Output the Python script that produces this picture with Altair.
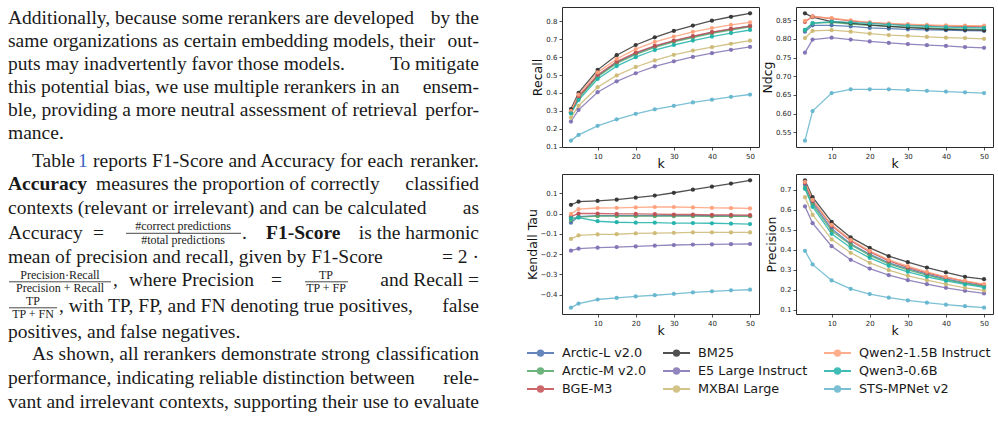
import altair as alt
import pandas as pd

# ---------------------------------------------------------------- data
k_values = [3, 5, 10, 15, 20, 25, 30, 35, 40, 45, 50]

models = ["Arctic-L v2.0", "Arctic-M v2.0", "BGE-M3", "BM25", "E5 Large Instruct",
          "MXBAI Large", "Qwen2-1.5B Instruct", "Qwen3-0.6B", "STS-MPNet v2"]
model_colors = ["#4C72B0", "#55A868", "#C44E52", "#333333", "#8172B3",
                "#CCB974", "#FFA07A", "#20B2AA", "#64B5CD"]

recall = {
    "Arctic-L v2.0":       [0.290, 0.375, 0.495, 0.570, 0.620, 0.660, 0.690, 0.715, 0.738, 0.757, 0.775],
    "Arctic-M v2.0":       [0.290, 0.370, 0.490, 0.565, 0.615, 0.655, 0.685, 0.710, 0.733, 0.752, 0.770],
    "BGE-M3":              [0.295, 0.380, 0.500, 0.575, 0.625, 0.663, 0.693, 0.718, 0.740, 0.758, 0.774],
    "BM25":                [0.310, 0.400, 0.529, 0.611, 0.668, 0.711, 0.747, 0.777, 0.804, 0.826, 0.845],
    "E5 Large Instruct":   [0.240, 0.305, 0.404, 0.465, 0.510, 0.548, 0.577, 0.601, 0.622, 0.641, 0.657],
    "MXBAI Large":         [0.262, 0.328, 0.432, 0.498, 0.545, 0.582, 0.613, 0.637, 0.656, 0.675, 0.692],
    "Qwen2-1.5B Instruct": [0.300, 0.390, 0.515, 0.590, 0.645, 0.685, 0.715, 0.742, 0.763, 0.780, 0.795],
    "Qwen3-0.6B":          [0.285, 0.360, 0.478, 0.550, 0.600, 0.640, 0.668, 0.693, 0.715, 0.735, 0.752],
    "STS-MPNet v2":        [0.133, 0.165, 0.216, 0.252, 0.283, 0.308, 0.328, 0.347, 0.362, 0.378, 0.391],
}

ndcg = {
    "Arctic-L v2.0":       [0.819, 0.836, 0.836, 0.833, 0.829, 0.827, 0.825, 0.824, 0.823, 0.822, 0.821],
    "Arctic-M v2.0":       [0.823, 0.841, 0.844, 0.839, 0.836, 0.833, 0.831, 0.829, 0.827, 0.826, 0.825],
    "BGE-M3":              [0.845, 0.860, 0.854, 0.848, 0.843, 0.840, 0.837, 0.835, 0.834, 0.833, 0.832],
    "BM25":                [0.868, 0.858, 0.846, 0.842, 0.837, 0.833, 0.830, 0.827, 0.825, 0.824, 0.823],
    "E5 Large Instruct":   [0.763, 0.798, 0.803, 0.798, 0.793, 0.789, 0.786, 0.783, 0.781, 0.778, 0.776],
    "MXBAI Large":         [0.802, 0.821, 0.823, 0.819, 0.814, 0.810, 0.808, 0.805, 0.803, 0.802, 0.800],
    "Qwen2-1.5B Instruct": [0.848, 0.859, 0.855, 0.849, 0.844, 0.841, 0.839, 0.837, 0.836, 0.835, 0.835],
    "Qwen3-0.6B":          [0.824, 0.842, 0.846, 0.844, 0.841, 0.838, 0.835, 0.833, 0.831, 0.830, 0.829],
    "STS-MPNet v2":        [0.528, 0.607, 0.655, 0.665, 0.665, 0.665, 0.663, 0.661, 0.659, 0.657, 0.655],
}

kendall_tau = {
    "Arctic-L v2.0":       [-0.045, -0.015, -0.010, -0.010, -0.010, -0.010, -0.010, -0.010, -0.011, -0.012, -0.012],
    "Arctic-M v2.0":       [-0.032, -0.018, -0.013, -0.013, -0.013, -0.013, -0.013, -0.013, -0.014, -0.014, -0.014],
    "BGE-M3":              [-0.015, 0.000, 0.000, -0.002, -0.002, -0.003, -0.005, -0.005, -0.007, -0.007, -0.008],
    "BM25":                [0.043, 0.058, 0.062, 0.068, 0.078, 0.088, 0.102, 0.117, 0.132, 0.147, 0.163],
    "E5 Large Instruct":   [-0.183, -0.173, -0.168, -0.165, -0.162, -0.158, -0.155, -0.153, -0.152, -0.151, -0.150],
    "MXBAI Large":         [-0.125, -0.108, -0.103, -0.102, -0.098, -0.097, -0.095, -0.093, -0.093, -0.093, -0.093],
    "Qwen2-1.5B Instruct": [-0.002, 0.022, 0.027, 0.028, 0.030, 0.032, 0.032, 0.030, 0.028, 0.027, 0.025],
    "Qwen3-0.6B":          [-0.023, -0.020, -0.038, -0.043, -0.045, -0.045, -0.047, -0.047, -0.048, -0.050, -0.052],
    "STS-MPNet v2":        [-0.463, -0.443, -0.423, -0.415, -0.408, -0.402, -0.395, -0.388, -0.383, -0.378, -0.375],
}

precision = {
    "Arctic-L v2.0":       [0.725, 0.635, 0.505, 0.430, 0.378, 0.335, 0.305, 0.278, 0.255, 0.235, 0.220],
    "Arctic-M v2.0":       [0.710, 0.625, 0.495, 0.425, 0.372, 0.330, 0.300, 0.273, 0.250, 0.232, 0.217],
    "BGE-M3":              [0.735, 0.645, 0.520, 0.445, 0.390, 0.345, 0.312, 0.285, 0.262, 0.242, 0.225],
    "BM25":                [0.747, 0.663, 0.540, 0.462, 0.410, 0.368, 0.338, 0.311, 0.287, 0.265, 0.253],
    "E5 Large Instruct":   [0.617, 0.533, 0.418, 0.350, 0.306, 0.273, 0.248, 0.228, 0.210, 0.195, 0.182],
    "MXBAI Large":         [0.663, 0.575, 0.452, 0.385, 0.335, 0.298, 0.270, 0.248, 0.228, 0.210, 0.197],
    "Qwen2-1.5B Instruct": [0.740, 0.650, 0.525, 0.450, 0.395, 0.350, 0.318, 0.290, 0.265, 0.245, 0.228],
    "Qwen3-0.6B":          [0.705, 0.615, 0.480, 0.410, 0.360, 0.320, 0.290, 0.265, 0.245, 0.227, 0.212],
    "STS-MPNet v2":        [0.395, 0.327, 0.247, 0.205, 0.179, 0.161, 0.147, 0.136, 0.126, 0.118, 0.111],
}

recall_ticks = [0.1, 0.2, 0.3, 0.4, 0.5, 0.6, 0.7, 0.8]
ndcg_ticks = [0.55, 0.60, 0.65, 0.70, 0.75, 0.80, 0.85]
kendall_ticks = [-0.4, -0.3, -0.2, -0.1, 0.0, 0.1]
precision_ticks = [0.1, 0.2, 0.3, 0.4, 0.5, 0.6, 0.7]
k_ticks = [10, 20, 30, 40, 50]

# ---------------------------------------------------------------- paragraph text
paragraph_lines = [
    "Additionally, because some rerankers are developed", "by the",
    "same organizations as certain embedding models, their", "out-",
    "puts may inadvertently favor those models.", "To mitigate",
    "this potential bias, we use multiple rerankers in an", "ensem-",
    "ble, providing a more neutral assessment of retrieval", "perfor-",
    "mance.",
    "Table", "1", "reports F1-Score and Accuracy for each", "reranker.",
    "Accuracy", "measures the proportion of correctly", "classified",
    "contexts (relevant or irrelevant) and can be calculated", "as",
    "Accuracy", "=", "#correct predictions", "#total predictions", ".", "F1-Score", "is the harmonic",
    "mean of precision and recall, given by F1-Score", "=  2 \u00b7",
    "Precision\u00b7Recall", "Precision + Recall", ",", "where Precision", "=", "TP", "TP + FP", "and Recall =",
    "TP", "TP + FN", ", with TP, FP, and FN denoting true positives,", "false",
    "positives, and false negatives.",
    "As shown, all rerankers demonstrate strong", "classification",
    "performance, indicating reliable distinction between", "rele-",
    "vant and irrelevant contexts, supporting their use to", "evaluate",
]

# (x, baseline y, style) for each text piece above, in page pixels
L, R, IND = 7, 478, 31
text_layout = [
    (L, 23.3, "reg"), (R, 23.3, "right"),
    (L, 46.3, "reg"), (R, 46.3, "right"),
    (L, 69.3, "reg"), (R, 69.3, "right"),
    (L, 92.3, "reg"), (R, 92.3, "right"),
    (L, 115.3, "reg"), (R, 115.3, "right"),
    (L, 138.3, "reg"),
    (IND, 165.7, "reg"), (77, 165.7, "blue"), (92, 165.7, "reg"), (R, 165.7, "right"),
    (L, 189.3, "bold"), (95, 189.3, "reg"), (R, 189.3, "right"),
    (L, 213.3, "reg"), (R, 213.3, "right"),
    (L, 238.3, "reg"), (92, 238.3, "reg"), (182, 228.5, "frac"), (182, 242.5, "frac"),
    (241, 238.3, "reg"), (265, 238.3, "bold"), (R, 238.3, "right"),
    (L, 261.7, "reg"), (R, 261.7, "right"),
    (59, 277.5, "frac"), (59, 291.0, "frac"), (112, 285.0, "reg"), (128, 285.0, "reg"),
    (270, 285.0, "reg"), (325, 277.5, "frac"), (325, 291.0, "frac"), (R, 285.0, "right"),
    (32, 303.5, "frac"), (32, 317.0, "frac"), (58, 310.7, "reg"), (R, 310.7, "right"),
    (L, 336.5, "reg"),
    (IND, 359.3, "reg"), (R, 359.3, "right"),
    (L, 383.3, "reg"), (R, 383.3, "right"),
    (L, 407.3, "reg"), (R, 407.3, "right"),
]
# fraction bars: (x start, x end, y)
fraction_bars = [(125, 240, 232.3), (8, 110, 280.8), (304, 347, 280.8), (8, 56, 306.8)]

TOP = 6  # top padding of the whole figure

# ---------------------------------------------------------------- long table
rows = []
for metric, table in [("Recall", recall), ("Ndcg", ndcg),
                      ("Kendall Tau", kendall_tau), ("Precision", precision)]:
    for m in models:
        for kk, v in zip(k_values, table[m]):
            rows.append({"metric": metric, "model": m, "k": kk, "value": v})
df = pd.DataFrame(rows)

k_pad = 0.05 * (max(k_values) - min(k_values))
k_domain = [min(k_values) - k_pad, max(k_values) + k_pad]


def panel(metric, ticks, fmt):
    sub = df[df["metric"] == metric]
    lo, hi = sub["value"].min(), sub["value"].max()
    pad = 0.05 * (hi - lo)
    return alt.Chart(sub).mark_line(
        strokeWidth=1.3, opacity=0.85,
        point=alt.OverlayMarkDef(filled=True, size=18, opacity=0.95),
    ).encode(
        x=alt.X("k:Q", scale=alt.Scale(domain=k_domain, nice=False, zero=False),
                axis=alt.Axis(values=k_ticks, title="k", titlePadding=-2)),
        y=alt.Y("value:Q", scale=alt.Scale(domain=[lo - pad, hi + pad], nice=False, zero=False),
                axis=alt.Axis(values=ticks, format=fmt, title=metric)),
        color=alt.Color("model:N", scale=alt.Scale(domain=models, range=model_colors),
                        title=None),
    ).properties(width=197, height=140)


grid = alt.concat(
    panel("Recall", recall_ticks, ".1f"),
    panel("Ndcg", ndcg_ticks, ".2f"),
    panel("Kendall Tau", kendall_ticks, ".1f"),
    panel("Precision", precision_ticks, ".1f"),
    columns=2, spacing={"row": 27, "column": 37}, bounds="flush",
)

# ---------------------------------------------------------------- paragraph panel
text_df = pd.DataFrame([
    {"text": t, "x": x, "y": y - TOP, "style": s}
    for t, (x, y, s) in zip(paragraph_lines, text_layout)
])
bar_df = pd.DataFrame([{"x": a, "x2": b, "y": y - TOP} for a, b, y in fraction_bars])

text_base = alt.Chart(text_df).encode(
    x=alt.X("x:Q", scale=None), y=alt.Y("y:Q", scale=None), text="text:N"
)
ink = "#1a1a1a"
serif = "Liberation Serif"


def text_layer(style, **kw):
    return text_base.transform_filter(alt.datum.style == style).mark_text(
        font=serif, baseline="alphabetic", **kw)


paragraph = alt.layer(
    text_layer("reg", fontSize=19.5, align="left", color=ink),
    text_layer("right", fontSize=19.5, align="right", color=ink),
    text_layer("bold", fontSize=19.5, align="left", color=ink, fontWeight="bold"),
    text_layer("blue", fontSize=19.5, align="left", color="#3b63c4"),
    text_layer("frac", fontSize=12, align="center", color=ink),
    alt.Chart(bar_df).mark_rule(color=ink, strokeWidth=0.8).encode(
        x=alt.X("x:Q", scale=None), x2="x2:Q", y=alt.Y("y:Q", scale=None)),
).properties(width=500, height=424 - TOP, view=alt.ViewBackground(stroke="transparent"))

# ---------------------------------------------------------------- figure
sym_path = ("M -1.5 0 L 1.5 0 M -0.3 0 A 0.3 0.3 0 1 1 0.3 0 "
            "A 0.3 0.3 0 1 1 -0.3 0")

chart = alt.hconcat(
    paragraph, grid, spacing=61, bounds="flush"
).properties(
    padding={"left": 0, "top": TOP, "right": 0, "bottom": 0}
).configure_view(
    stroke="#2a2a2a", strokeWidth=1
).configure_axis(
    labelFont="DejaVu Sans", labelFontSize=7, labelColor="#262626",
    tickColor="#262626", tickSize=3, tickWidth=0.8, labelPadding=2,
    domain=False, grid=False,
    titleFont="DejaVu Sans", titleFontSize=12.5, titleFontWeight="normal",
    titleColor="#111111", titlePadding=1,
).configure_legend(
    orient="none", legendX=529.5, legendY=342 - TOP, columns=3,
    labelFont="DejaVu Sans", labelFontSize=12.8, labelColor="#1a1a1a",
    symbolType=sym_path, symbolSize=324, symbolStrokeWidth=2,
    labelOffset=11.5, rowPadding=1, columnPadding=12,
)

chart.save("out.html", embed_options={"renderer": "svg", "actions": False})
